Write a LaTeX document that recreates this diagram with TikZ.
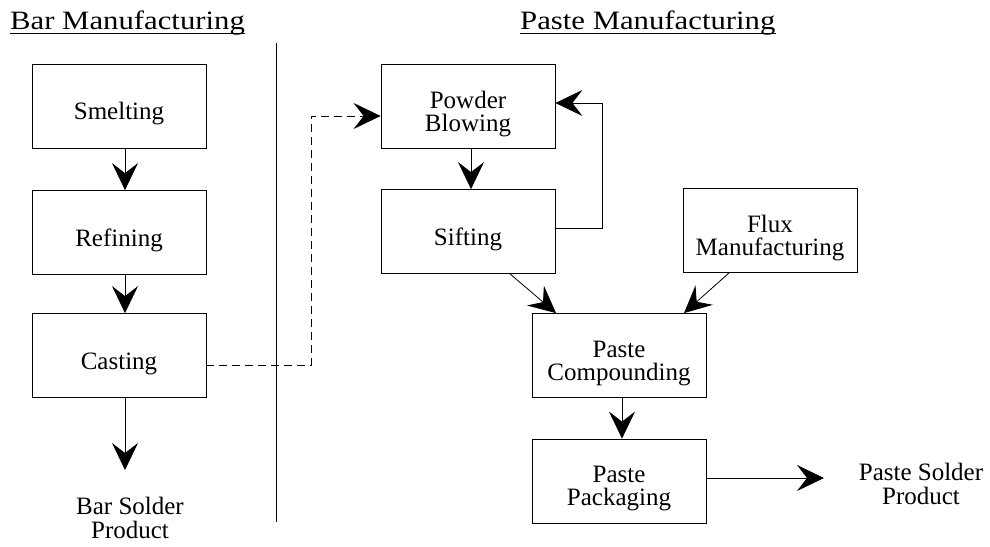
\documentclass[tikz,border=0pt]{standalone}
\usepackage{fontspec}
\setmainfont{Liberation Serif}
\newfontfamily\titlefont[FakeStretch=1.16]{Liberation Serif}
\usetikzlibrary{arrows.meta}
\tikzset{
  stage/.style={draw, line width=0.8pt, minimum width=174pt, minimum height=84pt,
    inner sep=0pt,
    label={[inner sep=0pt, align=center, font=\fontsize{25}{23}\selectfont, yshift=-8pt]center:#1}},
  flow/.style={line width=0.8pt, -{Stealth[length=27pt,width=26pt,inset=10pt]}},
  product/.style={align=center, font=\fontsize{25}{24}\selectfont},
  heading/.style={anchor=base west, inner sep=0pt, font=\titlefont\fontsize{26.5}{30}\selectfont}
}
\begin{document}
\begin{tikzpicture}[x=1pt,y=-1pt]
\useasboundingbox (0,0) rectangle (990,546);
\node[heading] (bartitle) at (10,29) {Bar Manufacturing};
\draw[line width=1pt] ([yshift=-4pt]bartitle.base west) -- ([yshift=-4pt]bartitle.base east);
\node[heading] (pastetitle) at (520,29) {Paste Manufacturing};
\draw[line width=1pt] ([yshift=-4pt]pastetitle.base west) -- ([yshift=-4pt]pastetitle.base east);
\draw[line width=0.8pt] (276,43) -- (276,522);
\node[stage=Smelting] (smelt) at (119,106) {};
\node[stage=Refining] (refine) at (119,232.5) {};
\node[stage=Casting] (cast) at (119,355.5) {};
\node[product] (barprod) at (130,518) {Bar Solder\\Product};
\coordinate (bartip) at (125,470);
\node[stage={Powder\\Blowing}] (blow) at (468,106.5) {};
\node[stage=Sifting] (sift) at (468,231.5) {};
\node[stage={Flux\\Manufacturing}] (flux) at (770,230.5) {};
\node[stage={Paste\\Compounding}] (comp) at (619,355.5) {};
\node[stage={Paste\\Packaging}] (pack) at (619,481) {};
\node[product] (pasteprod) at (921,484) {Paste Solder\\Product};
\coordinate (pastetip) at (824,478);
\draw[flow] ([xshift=6pt]smelt.south) -- ([xshift=6pt]refine.north);
\draw[flow] ([xshift=6pt]refine.south) -- ([xshift=6pt]cast.north);
\draw[flow] ([xshift=6pt]cast.south) -- (bartip);
\draw[flow, dash pattern=on 8pt off 5pt] ([yshift=-9.5pt]cast.east) -- ++(105,0) |- ([yshift=-9.5pt]blow.west);
\draw[flow] ([xshift=3pt]blow.south) -- ([xshift=3pt]sift.north);
\draw[flow] ([yshift=3.5pt]sift.east) -- ++(47,0) |- ([yshift=3.5pt]blow.east);
\draw[flow] ([xshift=42pt]sift.south) -- ([xshift=-63pt]comp.north);
\draw[flow] ([xshift=-41pt]flux.south) -- ([xshift=65pt]comp.north);
\draw[flow] ([xshift=3pt]comp.south) -- ([xshift=3pt]pack.north);
\draw[flow] ([yshift=3pt]pack.east) -- (pastetip);
\end{tikzpicture}
\end{document}
